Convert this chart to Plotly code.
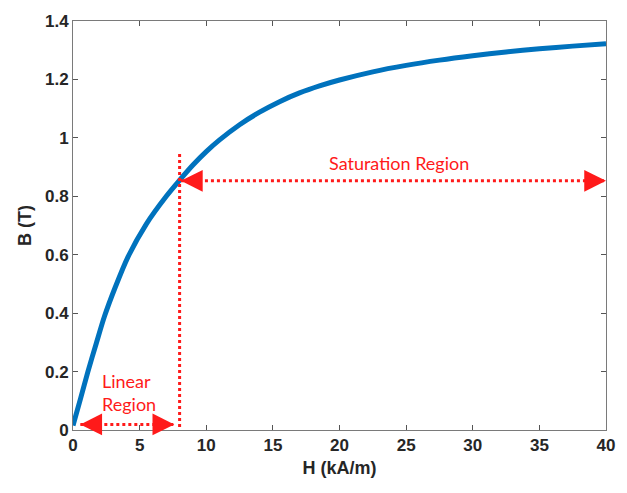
import plotly.graph_objects as go

# B-H curve
H = [0, 0.55, 1.12, 1.75, 2.37, 3.2, 4.12, 5.5, 7.0, 8, 9, 10, 11, 12.5, 14, 15.5, 17, 18.5, 20,
     22.5, 25, 27.5, 30, 32.5, 35, 37.5, 40]
B = [0.015, 0.105, 0.2, 0.297, 0.39, 0.492, 0.592, 0.705, 0.8, 0.855, 0.907, 0.953, 0.993, 1.045,
     1.088, 1.124, 1.154, 1.178, 1.198, 1.226, 1.248, 1.266, 1.281, 1.294, 1.305, 1.314, 1.322]

x_ticks = [0, 5, 10, 15, 20, 25, 30, 35, 40]
y_ticks = [0, 0.2, 0.4, 0.6, 0.8, 1, 1.2, 1.4]

knee_H = 8
knee_B_top = 0.95
sat_B = 0.853
sat_span = [8.1, 40]
lin_B = 0.019
lin_span = [0.55, 7.6]

red = "#ff1a1a"
fig = go.Figure()

fig.add_trace(go.Scatter(x=H, y=B, mode="lines",
                         line=dict(color="#0072BD", width=5, shape="spline", smoothing=0.8),
                         showlegend=False, hoverinfo="skip"))

# vertical dotted line at knee
fig.add_trace(go.Scatter(x=[knee_H, knee_H], y=[-0.01, knee_B_top], mode="lines",
                         line=dict(color=red, width=3, dash="dot"), showlegend=False, cliponaxis=False))

# saturation arrow line
fig.add_trace(go.Scatter(x=sat_span, y=[sat_B, sat_B], mode="lines",
                         line=dict(color=red, width=3, dash="dot"), showlegend=False))
# linear arrow line
fig.add_trace(go.Scatter(x=lin_span, y=[lin_B, lin_B], mode="lines",
                         line=dict(color=red, width=3, dash="dot"), showlegend=False))


def head(x_tip, y, x_from):
    fig.add_annotation(x=x_tip, y=y, ax=x_from, ay=y, xref="x", yref="y", axref="x", ayref="y",
                       text="", showarrow=True, arrowhead=2, arrowsize=1.45, arrowwidth=3,
                       arrowcolor=red)


head(sat_span[0], sat_B, sat_span[0] + 1.2)
head(sat_span[1], sat_B, sat_span[1] - 1.2)
head(lin_span[0], lin_B, lin_span[0] + 1.2)
head(lin_span[1], lin_B, lin_span[1] - 1.2)

label_font = dict(family="Lato, Open Sans, sans-serif", size=18, color=red)
fig.add_annotation(x=24.5, y=0.914, text="Saturation Region", showarrow=False, font=label_font)
fig.add_annotation(x=4.2, y=0.127, text="Linear<br>Region", showarrow=False, align="left",
                   font=label_font)

tick_font = dict(family="Liberation Sans, Arial", size=17, color="#262626", weight="bold")
title_font = dict(family="Liberation Sans, Arial", size=18, color="#262626", weight="bold")

axis_common = dict(showline=True, mirror="ticks", linecolor="#7a7a7a", linewidth=1,
                   ticks="inside", ticklen=5, tickcolor="#555", showgrid=False, zeroline=False,
                   tickfont=tick_font)

fig.update_layout(
    width=627, height=493,
    margin=dict(l=73, r=20, t=15, b=63),
    plot_bgcolor="white", paper_bgcolor="white",
    xaxis=dict(range=[0, 40], tickvals=x_ticks,
               title=dict(text="H (kA/m)", font=title_font, standoff=6),
               **axis_common),
    yaxis=dict(range=[0, 1.4], tickvals=y_ticks,
               title=dict(text="B (T)", font=title_font, standoff=8),
               **axis_common),
)

fig.write_html("out.html")
